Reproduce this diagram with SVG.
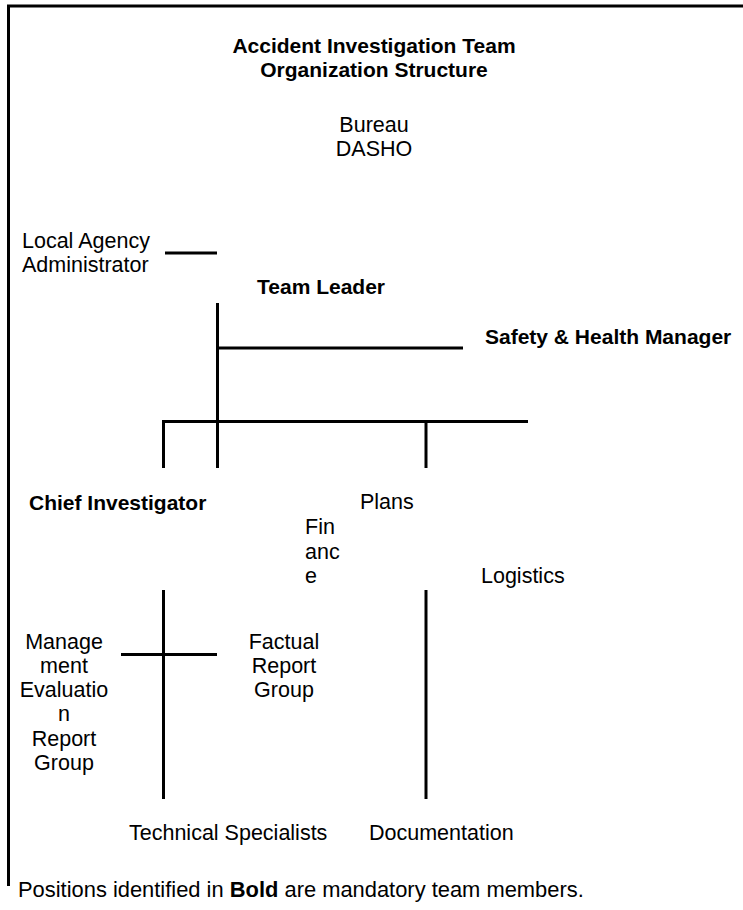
<svg xmlns="http://www.w3.org/2000/svg" width="743" height="910" viewBox="0 0 743 910">
<style>
text{font-family:"Liberation Sans",Arial,sans-serif;font-size:21.5px;fill:#000}
.b{font-weight:bold;font-size:21px}
.m{text-anchor:middle}
.ln{stroke:#000;stroke-width:3;fill:none;stroke-linecap:butt}
</style>
<rect width="743" height="910" fill="#fff"/>
<path class="ln" d="M8.5,886 V6 H743"/>
<g id="title">
<text class="b m" x="374" y="53">Accident Investigation Team</text>
<text class="b m" x="374" y="77">Organization Structure</text>
</g>
<g id="bureau-dasho">
<text class="m" x="374" y="132">Bureau</text>
<text class="m" x="374" y="156">DASHO</text>
</g>
<g id="local-agency-administrator">
<text x="22" y="248">Local Agency</text>
<text x="22" y="272">Administrator</text>
</g>
<g id="team-leader"><text class="b" x="257" y="294">Team Leader</text></g>
<g id="safety-health-manager"><text class="b" x="485" y="344">Safety &amp; Health Manager</text></g>
<g id="chief-investigator"><text class="b" x="29" y="510">Chief Investigator</text></g>
<g id="plans"><text x="360" y="509">Plans</text></g>
<g id="finance">
<text x="305" y="534">Fin</text>
<text x="305" y="559">anc</text>
<text x="305" y="583">e</text>
</g>
<g id="logistics"><text x="481" y="583">Logistics</text></g>
<g id="management-evaluation-report-group">
<text class="m" x="64" y="649">Manage</text>
<text class="m" x="64" y="673">ment</text>
<text class="m" x="64" y="697">Evaluatio</text>
<text class="m" x="64" y="721">n</text>
<text class="m" x="64" y="746">Report</text>
<text class="m" x="64" y="770">Group</text>
</g>
<g id="factual-report-group">
<text class="m" x="284" y="649">Factual</text>
<text class="m" x="284" y="673">Report</text>
<text class="m" x="284" y="697">Group</text>
</g>
<g id="technical-specialists"><text x="129" y="840">Technical Specialists</text></g>
<g id="documentation"><text x="369" y="840">Documentation</text></g>
<g id="note"><text x="18" y="897" style="font-size:21.9px">Positions identified in <tspan font-weight="bold">Bold</tspan> are mandatory team members.</text></g>
<g id="connectors">
<path class="ln" d="M165,253 H217"/>
<path class="ln" d="M217.5,303 V468"/>
<path class="ln" d="M217.5,348 H463"/>
<path class="ln" d="M162,421.5 H528"/>
<path class="ln" d="M163.5,420 V468"/>
<path class="ln" d="M426,420 V468"/>
<path class="ln" d="M163.5,590 V799"/>
<path class="ln" d="M426,590 V799"/>
<path class="ln" d="M121,654.5 H217"/>
</g>
</svg>
